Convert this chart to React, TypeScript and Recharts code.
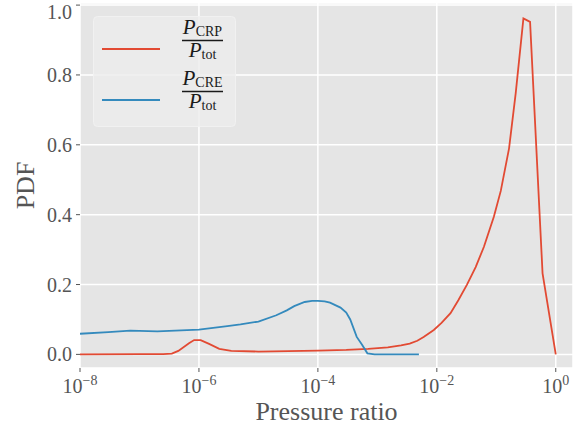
import React from "react";
import { LineChart, Line, XAxis, YAxis, CartesianGrid, Legend } from "recharts";

const FONT = "'Liberation Serif', 'DejaVu Serif', serif";

// CRP / Ptot curve
const crpX = [1e-8, 1e-7, 2.5e-7, 3.5e-7, 4.5e-7, 6.8e-7, 8.3e-7, 1.07e-6, 1.48e-6, 2.2e-6, 3.5e-6, 1e-5, 1e-4, 3e-4, 7e-4, 1.5e-3, 2.5e-3, 3.5e-3, 4.7e-3, 6e-3, 8.9e-3, 0.012, 0.017, 0.023, 0.032, 0.045, 0.062, 0.091, 0.119, 0.164, 0.212, 0.286, 0.37, 0.6, 1.0];
const crpY = [0, 0.0005, 0.001, 0.002, 0.01, 0.032, 0.041, 0.041, 0.03, 0.016, 0.01, 0.008, 0.011, 0.013, 0.016, 0.02, 0.026, 0.031, 0.039, 0.05, 0.07, 0.09, 0.118, 0.155, 0.199, 0.25, 0.308, 0.394, 0.468, 0.59, 0.747, 0.962, 0.952, 0.232, 0];

// CRE / Ptot curve
const creX = [1e-8, 3e-8, 7e-8, 2e-7, 1e-6, 3e-6, 5e-6, 1e-5, 2e-5, 3e-5, 4e-5, 6e-5, 8e-5, 1e-4, 1.3e-4, 1.6e-4, 2.4e-4, 3e-4, 3.5e-4, 4.5e-4, 5.5e-4, 6.8e-4, 9e-4, 5e-3];
const creY = [0.059, 0.064, 0.068, 0.066, 0.071, 0.081, 0.086, 0.094, 0.112, 0.126, 0.138, 0.15, 0.153, 0.153, 0.152, 0.148, 0.134, 0.12, 0.1, 0.05, 0.028, 0.003, 0, 0];

const xTicks = [1e-8, 1e-6, 1e-4, 1e-2, 1];
const yTicks = [0, 0.2, 0.4, 0.6, 0.8, 1.0];

const crpData = crpX.map((x, i) => ({ x, y: crpY[i] }));
const creData = creX.map((x, i) => ({ x, y: creY[i] }));

const series = [
  { name: "CRP", color: "#E24A33", data: crpData },
  { name: "CRE", color: "#348ABD", data: creData },
];

const LogTick = (props: any) => {
  const { x, y, payload } = props;
  const exp = Math.round(Math.log10(payload.value));
  return (
    <text x={x} y={y} dy={19} textAnchor="middle" fill="#555" fontFamily={FONT} fontSize={20}>
      10
      <tspan dy={-8} fontSize={14}>
        {exp === 0 ? "0" : "\u2212" + Math.abs(exp)}
      </tspan>
    </text>
  );
};

const renderLegend = () => (
  <svg width={143} height={111} style={{ display: "block" }}>
    <rect x={0.5} y={0.5} width={142} height={110} rx={4} fill="rgba(236,236,236,0.8)" stroke="rgba(242,242,242,0.9)" />
    {series.map((s, i) => {
      const off = i * 51;
      return (
        <g key={s.name}>
          <line x1={9} x2={67} y1={33 + off} y2={33 + off} stroke={s.color} strokeWidth={2} />
          <text x={109.5} y={18 + off} textAnchor="middle" fill="#1a1a1a" fontFamily={FONT}>
            <tspan fontStyle="italic" fontSize={21}>P</tspan>
            <tspan fontSize={14} dy={2}>{s.name}</tspan>
          </text>
          <line x1={89} x2={130} y1={24.5 + off} y2={24.5 + off} stroke="#1a1a1a" strokeWidth={1.6} />
          <text x={109.5} y={41 + off} textAnchor="middle" fill="#1a1a1a" fontFamily={FONT}>
            <tspan fontStyle="italic" fontSize={21}>P</tspan>
            <tspan fontSize={14} dy={2}>tot</tspan>
          </text>
        </g>
      );
    })}
  </svg>
);

export default function App() {
  return (
    <div style={{ position: "absolute", left: 0, top: 0, width: 580, height: 431, background: "#fff" }}>
      <LineChart width={580} height={431} margin={{ top: 3, right: 7, bottom: 0, left: 0 }}>
        <CartesianGrid fill="#E5E5E5" stroke="#ffffff" strokeWidth={1.5} />
        <XAxis
          type="number"
          dataKey="x"
          scale="log"
          domain={[1e-8, 1.95]}
          allowDataOverflow
          ticks={xTicks}
          height={63}
          axisLine={false}
          tickLine={{ stroke: "#555" }}
          tickSize={4}
          tick={<LogTick />}
          label={{
            content: (p: any) => {
              const vb = p.viewBox;
              return (
                <text x={vb.x + vb.width / 2} y={420} textAnchor="middle" fill="#555" fontFamily={FONT} fontSize={26}>
                  Pressure ratio
                </text>
              );
            },
          }}
        />
        <YAxis
          type="number"
          domain={[-0.039, 1.006]}
          allowDataOverflow
          ticks={yTicks}
          width={80}
          axisLine={false}
          tickLine={{ stroke: "#555" }}
          tickSize={4}
          tickMargin={4}
          tickFormatter={(v: number) => v.toFixed(1)}
          tick={{ fill: "#555", fontSize: 20, fontFamily: FONT }}
          label={{
            content: (p: any) => {
              const vb = p.viewBox;
              const cy = vb.y + vb.height / 2;
              return (
                <text x={25} y={cy} transform={`rotate(-90 25 ${cy})`} textAnchor="middle" dominantBaseline="central" fill="#555" fontFamily={FONT} fontSize={26}>
                  PDF
                </text>
              );
            },
          }}
        />
        <Legend
          layout="vertical"
          align="center"
          verticalAlign="middle"
          content={renderLegend}
          wrapperStyle={{ left: 93, top: 16, width: 143, height: 111 }}
        />
        {series.map((s) => (
          <Line
            key={s.name}
            data={s.data}
            dataKey="y"
            name={s.name}
            type="linear"
            stroke={s.color}
            strokeWidth={1.8}
            dot={false}
            isAnimationActive={false}
          />
        ))}
      </LineChart>
    </div>
  );
}
